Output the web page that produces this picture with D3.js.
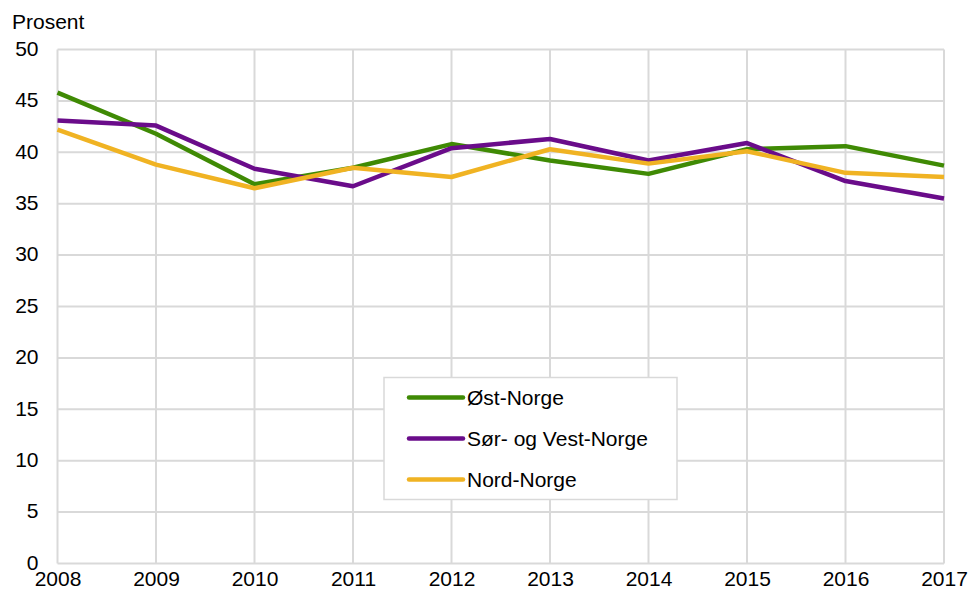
<!DOCTYPE html>
<html>
<head>
<meta charset="utf-8">
<script src="https://cdn.jsdelivr.net/npm/d3@7"></script>
<style>
  body { margin: 0; background: #fff; }
  svg text { font-family: "Liberation Sans", Arial, sans-serif; fill: #000; }
</style>
</head>
<body>
<svg id="chart"></svg>
<script>
var years = [2008, 2009, 2010, 2011, 2012, 2013, 2014, 2015, 2016, 2017];
var yTicks = [0, 5, 10, 15, 20, 25, 30, 35, 40, 45, 50];
var seriesNames = ["Øst-Norge", "Sør- og Vest-Norge", "Nord-Norge"];
var ostNorge = [45.8, 41.8, 36.9, 38.5, 40.8, 39.2, 37.9, 40.3, 40.6, 38.7];
var sorVestNorge = [43.1, 42.6, 38.4, 36.7, 40.4, 41.3, 39.2, 40.9, 37.2, 35.5];
var nordNorge = [42.2, 38.8, 36.5, 38.5, 37.6, 40.3, 38.9, 40.1, 38.0, 37.6];
var colors = ["#3f8a04", "#6a0c8a", "#f0b323"];

var svgWidth = 970, svgHeight = 590;
var margin = {top: 49.5, right: 26, bottom: 26.5, left: 57.5};
var width = svgWidth - margin.left - margin.right;
var height = svgHeight - margin.top - margin.bottom;
var fontSize = 21;

var svg = d3.select("#chart")
	.attr("width", svgWidth)
	.attr("height", svgHeight);

var x = d3.scaleLinear()
	.domain([2008, 2017])
	.range([margin.left, margin.left + width]);

var y = d3.scaleLinear()
	.domain([0, 50])
	.range([margin.top + height, margin.top]);

// grid
svg.append("g")
	.selectAll("line")
	.data(yTicks)
	.enter().append("line")
	.attr("x1", margin.left).attr("x2", margin.left + width)
	.attr("y1", d => y(d)).attr("y2", d => y(d))
	.attr("stroke", "#d9d9d9").attr("stroke-width", 2);

svg.append("g")
	.selectAll("line")
	.data(years)
	.enter().append("line")
	.attr("x1", d => x(d)).attr("x2", d => x(d))
	.attr("y1", y(0)).attr("y2", y(50))
	.attr("stroke", "#d9d9d9").attr("stroke-width", 2);

// axes (labels only)
var yAxis = svg.append("g")
	.attr("transform", "translate(" + (margin.left - 19) + ",-1)")
	.call(d3.axisLeft(y).tickValues(yTicks).tickSize(0).tickPadding(0));
yAxis.select(".domain").remove();
yAxis.selectAll("text").attr("font-size", fontSize).attr("font-family", null);

var xAxis = svg.append("g")
	.attr("transform", "translate(0," + (margin.top + height) + ")")
	.call(d3.axisBottom(x).tickValues(years).tickFormat(d3.format("d")).tickSize(0).tickPadding(8));
xAxis.select(".domain").remove();
xAxis.selectAll("text").attr("font-size", fontSize).attr("font-family", null);

svg.append("text")
	.attr("x", 12)
	.attr("y", 29)
	.attr("font-size", fontSize)
	.text("Prosent");

// lines
var allSeries = [ostNorge, sorVestNorge, nordNorge];
var line = d3.line()
	.x((d, i) => x(years[i]))
	.y(d => y(d));

svg.append("g")
	.selectAll("path")
	.data(allSeries)
	.enter().append("path")
	.attr("d", line)
	.attr("fill", "none")
	.attr("stroke", (d, i) => colors[i])
	.attr("stroke-width", 4.5)
	.attr("stroke-linejoin", "round");

// legend
var legend = svg.append("g").attr("transform", "translate(384,377.5)");
legend.append("rect")
	.attr("width", 293)
	.attr("height", 122)
	.attr("fill", "#fff")
	.attr("stroke", "#d9d9d9")
	.attr("stroke-width", 1.5);

var items = legend.selectAll(".item")
	.data(seriesNames)
	.enter().append("g")
	.attr("class", "item")
	.attr("transform", (d, i) => "translate(0," + (20 + i * 41) + ")");

items.append("line")
	.attr("x1", 25).attr("x2", 79)
	.attr("stroke", (d, i) => colors[i])
	.attr("stroke-width", 4.5)
	.attr("stroke-linecap", "round");

items.append("text")
	.attr("x", 83)
	.attr("dy", "0.35em")
	.attr("font-size", fontSize)
	.text(d => d);
</script>
</body>
</html>
